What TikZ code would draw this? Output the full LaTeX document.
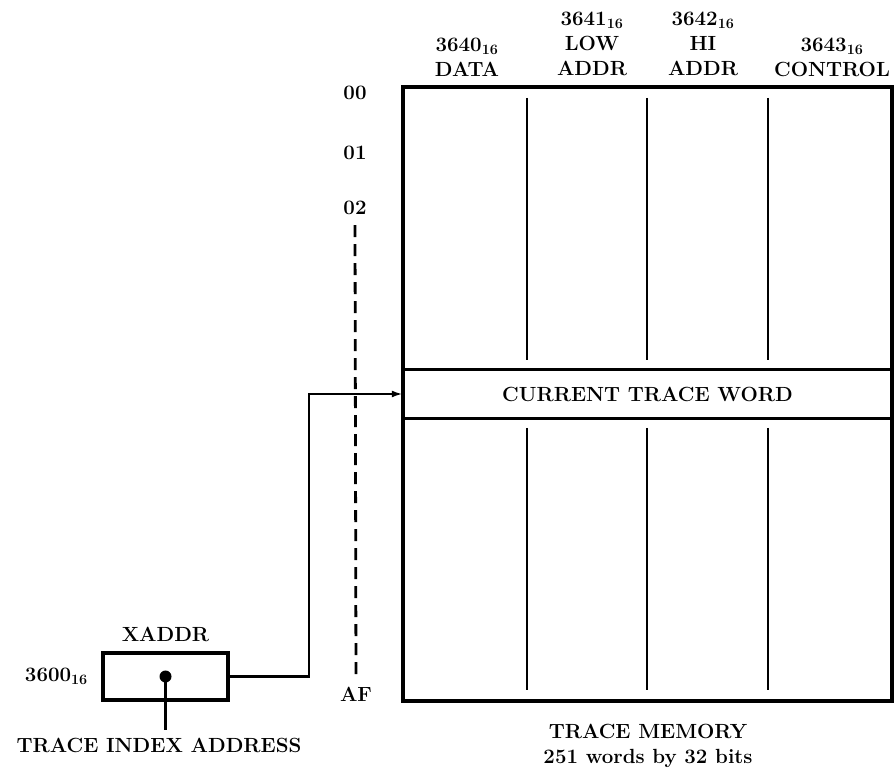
\documentclass[tikz,border=0pt]{standalone}
\usepackage{tikz}
\usetikzlibrary{arrows.meta,positioning}

\begin{document}
\begin{tikzpicture}[x=1pt,y=1pt,
  lbl/.style={font=\fontsize{20.5}{25}\selectfont\bfseries,inner sep=0pt,align=center},
  thick box/.style={draw,line width=4pt,inner sep=0pt},
  colline/.style={line width=2.8pt},
  wire/.style={line width=2.4pt}]
  \useasboundingbox (0,0) rectangle (895,780);

  \node[thick box,minimum width=489,minimum height=614] (mem) at (647.5,386) {};
  \node[lbl,minimum width=489,minimum height=48] (cur) at (647.5,386) {CURRENT TRACE WORD};
  \draw[colline] (cur.north west) -- (cur.north east);
  \draw[colline] (cur.south west) -- (cur.south east);
  \foreach \x in {527,647,768} {
    \draw[colline] (\x,682) -- (\x,420);
    \draw[colline] (\x,352) -- (\x,90);
  }

  \node[lbl] (hdata) at (467,723) {3640\textsubscript{16}\\DATA};
  \node[lbl] (hlow) at (592,736) {3641\textsubscript{16}\\LOW\\ADDR};
  \node[lbl] (hhi) at (703,736) {3642\textsubscript{16}\\HI\\ADDR};
  \node[lbl] (hctl) at (832,723) {3643\textsubscript{16}\\CONTROL};

  \node[lbl] (r00) at (355,687) {00};
  \node[lbl] (r01) at (355,627) {01};
  \node[lbl] (r02) at (355,572) {02};
  \node[lbl] (raf) at (356,86) {AF};
  \draw[wire,line width=2.8pt,dash pattern=on 12pt off 7pt] ([yshift=-10pt]r02.south) -- ([yshift=6pt]raf.north);

  \node[thick box,minimum width=125,minimum height=47] (xaddr) at (165.5,103.5) {};
  \node[lbl,above=9pt of xaddr] (xname) {XADDR};
  \node[lbl,left=13pt of xaddr] (xloc) {3600\textsubscript{16}};
  \fill (xaddr.center) circle (6pt);
  \node[lbl] (tia) at (159,35) {TRACE INDEX ADDRESS};
  \draw[wire,shorten >=8pt] (xaddr.center) -- (xaddr.center |- tia.north);
  \draw[wire,-{Latex[length=11pt,width=7pt]}] (xaddr.east) -- ++(79,0) |- (cur.west);

  \node[lbl] (cap) at (648,34) {TRACE MEMORY\\251 words by 32 bits};
\end{tikzpicture}
\end{document}
